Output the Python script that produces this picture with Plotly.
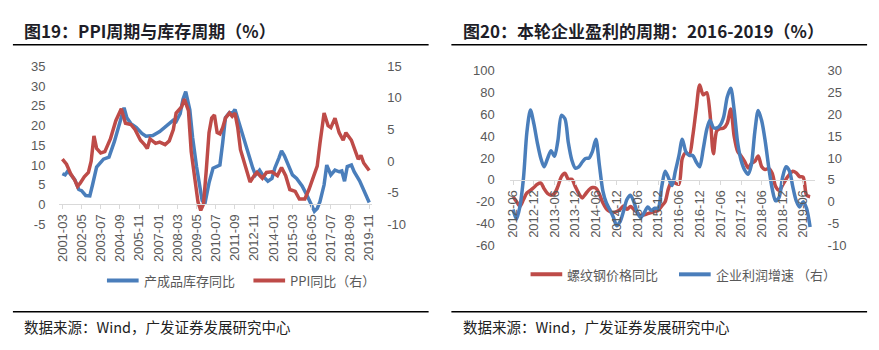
import plotly.graph_objects as go

W, H = 879, 350

# ---------------- Chart 19 data ----------------
inv_dates = ["2001-03","2001-05","2001-07","2001-09","2001-12","2002-03","2002-05","2002-08","2002-11",
             "2003-01","2003-04","2003-09","2004-01","2004-05","2004-08","2004-12","2005-02","2005-05",
             "2005-09","2006-01","2006-04","2006-09","2007-02","2007-07","2007-12","2008-02","2008-05",
             "2008-07","2008-09","2008-12","2009-02","2009-05","2009-07","2009-09","2009-11","2010-02",
             "2010-05","2010-10","2010-12","2011-02","2011-05","2011-07","2011-09","2011-12","2012-02",
             "2012-05","2012-07","2012-10","2012-12","2013-03","2013-06","2013-09","2013-12","2014-02",
             "2014-05","2014-07","2014-09","2014-12","2015-03","2015-06","2015-10","2016-01","2016-05",
             "2016-07","2016-09","2016-11","2017-02","2017-04","2017-07","2017-10","2018-01","2018-03",
             "2018-05","2018-07","2018-10","2018-12","2019-04","2019-07","2019-11"]
inv_values = [7.8,7.5,8.5,7.5,6.3,3.8,3.5,2.3,2.2,
              5,9.5,11.5,12,16,20,24.5,22,20.5,
              19.5,18,17.3,17.5,18.5,20,21.4,21,23,
              26.6,28.6,24,17,9.5,4.7,1,0.2,5.5,
              9.2,10,15.6,22,23.3,23,24.1,20.5,18,
              14.8,12.4,9.2,7.5,8.7,7,5.9,6.6,9.2,
              11.7,13.6,12.4,10,7.5,6.6,4.7,2.7,-0.5,
              -1.7,-1,0.7,5,10,7.5,8.7,8.3,8.5,
              5.9,9.6,10,8.3,6,3.5,0.5]

ppi_dates = ["2001-03","2001-06","2001-09","2001-12","2002-02","2002-04","2002-07","2002-10","2002-12",
             "2003-02","2003-04","2003-07","2003-10","2004-02","2004-06","2004-08","2004-10","2005-01",
             "2005-05","2005-08","2005-12","2006-03","2006-05","2006-07","2006-11","2007-02","2007-06",
             "2007-09","2007-12","2008-02","2008-06","2008-08","2008-11","2009-01","2009-04","2009-06",
             "2009-08","2009-10","2009-12","2010-02","2010-04","2010-06","2010-08","2010-10","2010-12",
             "2011-02","2011-05","2011-07","2011-09","2011-11","2012-01","2012-04","2012-06","2012-08",
             "2012-11","2013-01","2013-05","2013-08","2013-12","2014-04","2014-07","2014-10","2015-01",
             "2015-05","2015-08","2015-12","2016-03","2016-05","2016-09","2016-11","2017-01","2017-02",
             "2017-05","2017-07","2017-10","2018-01","2018-04","2018-06","2018-10","2018-12","2019-03",
             "2019-05","2019-07","2019-11"]
ppi_values = [0.3,-0.5,-2,-3,-4,-3.5,-2.5,-1.8,0,
              4,2,1.3,1.5,3.5,6.4,7.3,8.3,6,
              5.8,5,3.3,2.6,2,3.5,2.8,3,2.6,
              3.2,5,7.6,8.6,9.8,8,1.5,-3.5,-6.5,
              -7.8,-6.8,-1.5,4.5,6.8,7.3,4.5,4.3,5.3,
              6.8,7.6,7.1,7.6,5.3,1.8,-0.3,-1.8,-3.3,
              -2.3,-1.8,-2.7,-1.8,-1.7,-2.3,-1,-2.3,-4.5,
              -4.8,-6,-6,-4.5,-3.3,-0.8,2.8,5.8,7.6,
              5.6,5.3,6.8,4.5,3.3,4.5,3.3,2,0.3,
              0.9,-0.3,-1.5]

left_ticks = ["2001-03","2002-05","2003-07","2004-09","2005-11","2007-01","2008-03","2009-05","2010-07",
              "2011-09","2012-11","2014-01","2015-03","2016-05","2017-07","2018-09","2019-11"]
y1_ticks = [-5, 0, 5, 10, 15, 20, 25, 30, 35]
y2_ticks = [-10, -5, 0, 5, 10, 15]

# ---------------- Chart 20 data ----------------
r_months = ["2012-06","2012-07","2012-08","2012-09","2012-10","2012-11","2012-12",
            "2013-01","2013-02","2013-03","2013-04","2013-05","2013-06","2013-07","2013-08","2013-09","2013-10","2013-11","2013-12",
            "2014-01","2014-02","2014-03","2014-04","2014-05","2014-06","2014-07","2014-08","2014-09","2014-10","2014-11","2014-12",
            "2015-01","2015-02","2015-03","2015-04","2015-05","2015-06","2015-07","2015-08","2015-09","2015-10","2015-11","2015-12",
            "2016-01","2016-02","2016-03","2016-04","2016-05","2016-06","2016-07","2016-08","2016-09","2016-10","2016-11","2016-12",
            "2017-01","2017-02","2017-03","2017-04","2017-05","2017-06","2017-07","2017-08","2017-09","2017-10","2017-11","2017-12",
            "2018-01","2018-02","2018-03","2018-04","2018-05","2018-06","2018-07","2018-08","2018-09","2018-10","2018-11","2018-12",
            "2019-01","2019-02","2019-03","2019-04","2019-05","2019-06","2019-07","2019-08"]
rebar_values = [-15.5,-19.8,-24.2,-18,-12,-9.6,-7,
                -4,-3,-8,-12.5,-14,-12.5,-6,3,6,0.5,0.5,-6,
                -12.5,-16.5,-13,-9,-7,-7.5,-13,-21,-26.5,-29,-30,-29,
                -27,-24,-27,-24.5,-27,-30,-33,-32,-31,-30,-29,-28,
                -24,-20,-8,-1,-3,-4,19.6,25,23,40,65,87,
                78,80,62,24,45,47,47.5,52,65,40,26,22,
                17,11,15,17,22,12,9.5,10.5,6,-6,-9.6,-5,
                0.6,5,8,6.5,3,2.5,-14,-15.5]
profit_values = [-1.8,-4,-1,5.5,16,21,17.9,
                 13.5,9.9,8,9.9,11.7,10.4,14,19.8,19,13.5,9.5,7.7,
                 8,9.1,9.9,10,11.5,14.3,8.5,2.5,-0.3,-1.8,-3.5,-5.5,
                 -4.5,-2,0.5,1.5,0,-2.5,-3.6,-2.5,-1.2,-2,-1.5,-1.5,
                 3.3,7,5.5,3.7,7,10.5,14.3,11.5,10.6,10.6,9.1,8,
                 12,16.5,18.7,17,16.9,17.6,19.5,24,26,21,13.5,9.5,
                 7.3,6.3,8.4,16,20.9,18.5,14,8,3,0.2,1,5.5,
                 8,7,3.5,0.2,-1.2,0,-1.5,-5.8]
right_ticks = ["2012-06","2012-12","2013-06","2013-12","2014-06","2014-12","2015-06","2015-12",
               "2016-06","2016-12","2017-06","2017-12","2018-06","2018-12","2019-06"]
y3_ticks = [-60, -40, -20, 0, 20, 40, 60, 80, 100]
y4_ticks = [-10, -5, 0, 5, 10, 15, 20, 25, 30]

BLUE = "#4A7EBB"
RED = "#BE4B48"
TICKC = "#595959"
LAT = "Liberation Sans, Arial, sans-serif"
CJK = "Noto Sans CJK SC, sans-serif"


def d(s):
    return s + "-01"


def px(x):
    return x / W


def py(y):
    return 1 - y / H


fig = go.Figure()

# chart 19
fig.add_trace(go.Scatter(x=[d(s) for s in inv_dates], y=inv_values, mode="lines",
                         line=dict(color=BLUE, width=3.5), xaxis="x", yaxis="y", showlegend=False,
                         name="产成品库存同比"))
fig.add_trace(go.Scatter(x=[d(s) for s in ppi_dates], y=ppi_values, mode="lines",
                         line=dict(color=RED, width=3.5), xaxis="x", yaxis="y2", showlegend=False,
                         name="PPI同比（右）"))

# chart 20
fig.add_trace(go.Scatter(x=[d(s) for s in r_months], y=rebar_values, mode="lines",
                         line=dict(color=RED, width=3.5, shape="spline", smoothing=0.8),
                         xaxis="x2", yaxis="y3", showlegend=False, name="螺纹钢价格同比"))
fig.add_trace(go.Scatter(x=[d(s) for s in r_months], y=profit_values, mode="lines",
                         line=dict(color=BLUE, width=3.5, shape="spline", smoothing=0.8),
                         xaxis="x2", yaxis="y4", showlegend=False, name="企业利润增速 （右）"))

tickfont = dict(family=LAT, size=13, color=TICKC)

xcommon = dict(type="date", showgrid=False, zeroline=False, showline=True, linecolor="#D9D9D9",
               linewidth=1, ticks="outside", ticklen=4, tickcolor="#D9D9D9", tickangle=-90,
               tickfont=tickfont, anchor="free")
ycommon = dict(showgrid=False, zeroline=False, showline=False, ticks="", tickfont=tickfont)


def tv(vals):
    return dict(tickvals=vals, ticktext=[str(v) for v in vals])


fig.update_layout(
    width=W, height=H, margin=dict(l=0, r=0, t=0, b=0),
    paper_bgcolor="white", plot_bgcolor="white",
    xaxis=dict(xcommon, domain=[px(55), px(371)], range=["2000-12-26", "2020-01-06"],
               position=py(206), tickvals=[d(s) for s in left_ticks], ticktext=left_ticks),
    yaxis=dict(ycommon, domain=[py(227), py(62)], range=[-5, 35], anchor="x",
               ticklabelstandoff=13, **tv(y1_ticks)),
    yaxis2=dict(ycommon, overlaying="y", side="right", range=[-10, 15], anchor="x",
                ticklabelstandoff=14, **tv(y2_ticks)),
    xaxis2=dict(xcommon, domain=[px(510), px(818)], range=["2012-05-03", "2019-09-10"],
                position=py(180.7), tickvals=[d(s) for s in right_ticks], ticktext=right_ticks),
    yaxis3=dict(ycommon, domain=[py(249), py(66.7)], range=[-60, 100], anchor="x2",
                ticklabelstandoff=14, **tv(y3_ticks)),
    yaxis4=dict(ycommon, overlaying="y3", side="right", range=[-10, 30], anchor="x2",
                ticklabelstandoff=12, **tv(y4_ticks)),
)

shapes = []
ann = []
# title / source rules
for x0, x1 in [(8, 428), (451, 871)]:
    shapes.append(dict(type="line", xref="paper", yref="paper", x0=px(x0), x1=px(x1),
                       y0=py(39.5), y1=py(39.5), line=dict(color="#000000", width=1.5)))
    shapes.append(dict(type="line", xref="paper", yref="paper", x0=px(x0), x1=px(x1),
                       y0=py(318.5), y1=py(318.5), line=dict(color="#000000", width=1.5)))

ann.append(dict(text="<b>图19：PPI周期与库存周期（%）</b>", x=px(17), y=py(25), xref="paper", yref="paper",
                xanchor="left", yanchor="middle", showarrow=False,
                font=dict(family=CJK, size=17, color="#1E1E28")))
ann.append(dict(text="<b>图20：本轮企业盈利的周期：2016-2019（%）</b>", x=px(461), y=py(25), xref="paper",
                yref="paper", xanchor="left", yanchor="middle", showarrow=False,
                font=dict(family=CJK, size=17, color="#1E1E28")))
for x0 in (17, 461):
    ann.append(dict(text="数据来源：Wind，广发证券发展研究中心", x=px(x0), y=py(334), xref="paper", yref="paper",
                    xanchor="left", yanchor="middle", showarrow=False,
                    font=dict(family=CJK, size=14.5, color="#222222")))

# legends
legend_items = [
    (103, 135, 285.7, BLUE, "产成品库存同比"),
    (251, 283, 285.7, RED, "PPI同比（右）"),
    (531, 563, 279.3, RED, "螺纹钢价格同比"),
    (681, 713, 279.3, BLUE, "企业利润增速 （右）"),
]
for x0, x1, yy, col, label in legend_items:
    shapes.append(dict(type="line", xref="paper", yref="paper", x0=px(x0), x1=px(x1),
                       y0=py(yy), y1=py(yy), line=dict(color=col, width=4)))
    ann.append(dict(text=label, x=px(x1 + 3), y=py(yy), xref="paper", yref="paper",
                    xanchor="left", yanchor="middle", showarrow=False,
                    font=dict(family=CJK, size=13, color=TICKC)))

fig.update_layout(shapes=shapes, annotations=ann)
fig.write_html("out.html")
